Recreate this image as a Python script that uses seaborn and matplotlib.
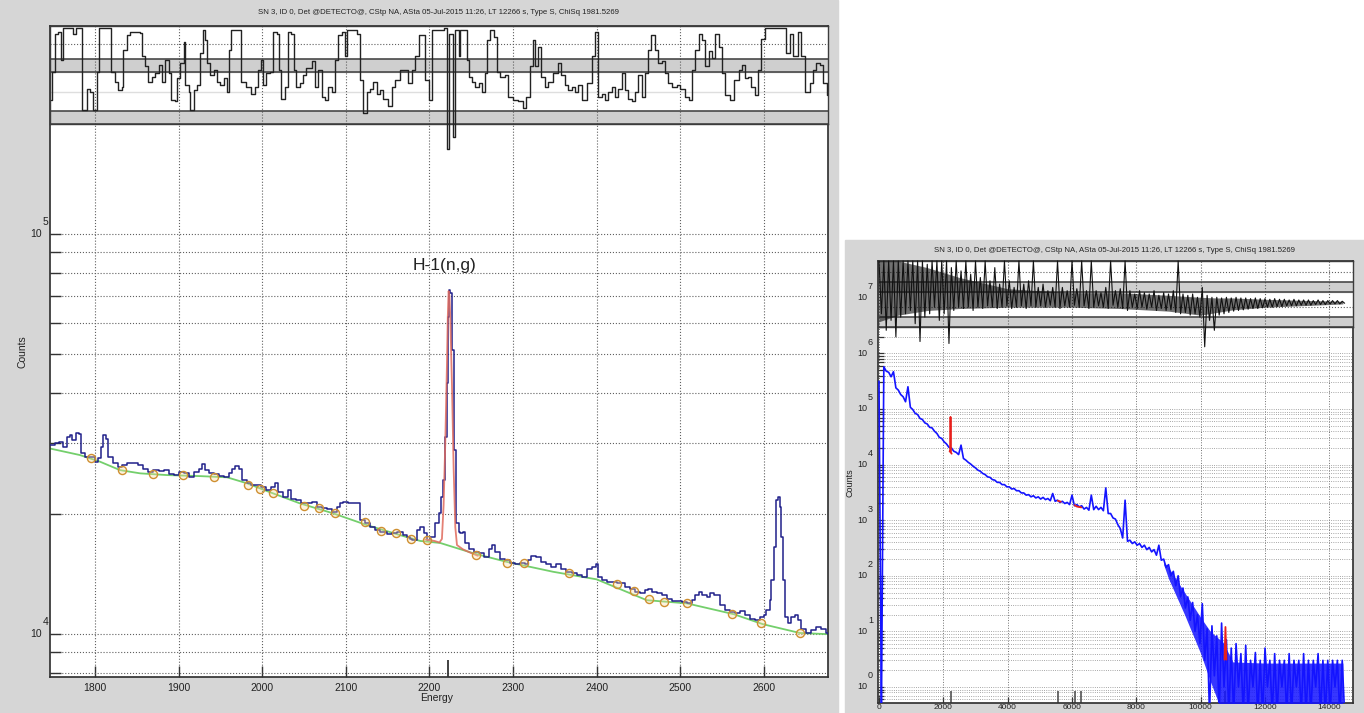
import numpy as np
import pandas as pd
import seaborn as sns
import matplotlib.pyplot as plt
from matplotlib.patches import Rectangle
from matplotlib.ticker import LogLocator, NullFormatter, FixedLocator
from matplotlib.transforms import offset_copy

# ---- data ----
title = "SN 3, ID 0, Det @DETECTO@, CStp NA, ASta 05-Jul-2015 11:26, LT 12266 s, Type S, ChiSq 1981.5269"

# zoomed spectrum (energy keV, counts)
zoom_spectrum = [
    (1746, 29690), (1752, 30060), (1757, 30270), (1762, 29380), (1766, 31120), (1770, 31440), (1773, 30550),
    (1777, 31840), (1781, 31620), (1783, 28310), (1788, 27730), (1794, 27730), (1800, 26980), (1804, 27480),
    (1807, 29380), (1810, 31440), (1813, 30830), (1816, 27730), (1822, 26730), (1828, 26180), (1832, 26450),
    (1838, 26790), (1846, 26790), (1852, 26450), (1858, 25820), (1864, 25470), (1870, 25700), (1876, 25590),
    (1882, 25700), (1888, 25120), (1894, 24950), (1900, 25470), (1906, 25230), (1912, 24660), (1918, 25470),
    (1924, 25940), (1928, 26610), (1932, 25700), (1936, 25230), (1942, 25120), (1948, 24830), (1954, 24720),
    (1960, 25230), (1964, 25940), (1968, 26300), (1972, 25940), (1976, 24270), (1982, 23820), (1987, 23550),
    (1993, 23550), (1999, 23330), (2005, 22910), (2011, 23330), (2015, 23820), (2019, 22700), (2025, 22030),
    (2031, 22910), (2035, 21830), (2041, 21630), (2047, 21230), (2053, 21280), (2059, 21430), (2065, 20800),
    (2071, 20610), (2077, 20510), (2083, 20230), (2089, 20800), (2093, 21230), (2097, 21430), (2103, 21230),
    (2109, 21280), (2115, 21230), (2117, 19280), (2123, 18920), (2129, 18540), (2135, 18200), (2141, 18030),
    (2149, 17780), (2155, 17860), (2161, 18030), (2165, 18030), (2169, 17680), (2173, 17500), (2177, 17340),
    (2179, 17180), (2185, 18200), (2189, 18540), (2193, 17860), (2197, 17180), (2201, 17500), (2207, 18920),
    (2211, 20040), (2214, 22030), (2216, 24270), (2219, 31120), (2221, 42360), (2222, 62090), (2223, 72440),
    (2225, 71120), (2227, 51290), (2229, 40740), (2230, 28840), (2232, 18920), (2235, 18030), (2237, 17860),
    (2240, 18030), (2243, 16870), (2247, 16370), (2253, 16070), (2259, 15920), (2265, 15600), (2271, 16370),
    (2275, 16670), (2279, 16070), (2284, 15450), (2290, 15310), (2296, 15030), (2302, 14960), (2308, 15030),
    (2314, 14960), (2318, 15310), (2322, 15670), (2328, 15560), (2334, 15170), (2340, 14960), (2346, 14720),
    (2352, 14960), (2358, 14590), (2364, 14320), (2370, 14190), (2376, 14050), (2382, 13900), (2388, 14520),
    (2394, 14720), (2399, 14960), (2402, 13900), (2406, 13650), (2412, 13520), (2418, 13520), (2424, 13430),
    (2430, 13400), (2434, 13120), (2440, 13000), (2446, 12760), (2452, 12650), (2458, 12880), (2462, 13000),
    (2466, 12760), (2472, 12680), (2478, 12530), (2484, 12270), (2490, 12110), (2496, 12110), (2502, 12050),
    (2508, 11940), (2514, 12160), (2518, 12530), (2522, 12760), (2526, 12530), (2532, 12390), (2536, 12650),
    (2540, 12530), (2544, 12530), (2548, 11800), (2554, 11480), (2560, 11380), (2566, 11270), (2572, 11430),
    (2578, 11150), (2584, 10940), (2590, 10840), (2595, 11040), (2600, 11150), (2603, 11480), (2607, 12160),
    (2609, 13650), (2612, 16520), (2615, 21630), (2617, 21980), (2619, 20800), (2620, 17500), (2623, 13650),
    (2625, 11040), (2629, 10640), (2633, 11040), (2637, 11150), (2641, 10840), (2645, 10330), (2651, 10050),
    (2657, 10230), (2663, 10420), (2669, 10330), (2674, 10050), (2677, 10000),
]

# continuum (green)
continuum = [
    (1746, 29110), (1782, 28030), (1806, 26980), (1830, 25700), (1854, 25230), (1886, 24980), (1926, 24830),
    (1958, 24660), (1982, 23820), (2005, 22810), (2045, 21230), (2085, 20040), (2125, 18740), (2165, 17680),
    (2189, 17100), (2213, 16900), (2253, 15920), (2292, 15170), (2348, 14320), (2400, 13710), (2460, 12160),
    (2508, 11940), (2564, 11220), (2599, 10590), (2643, 10070), (2677, 10000),
]

# peak fit (red)
peak_fit = [
    (2195, 17250), (2206, 17100), (2212, 16950), (2215, 17300), (2217, 21000), (2219, 30000), (2221, 47000),
    (2222, 62000), (2223, 72000), (2224, 70000), (2225, 62000), (2227, 42000), (2229, 26000), (2231, 18500),
    (2233, 16700), (2240, 16300), (2250, 15950), (2258, 15700),
]

# continuum nodes (circles)
nodes = [
    (1795, 27480), (1832, 25700), (1869, 25120), (1905, 24980), (1942, 24720), (1983, 23550), (1997, 23120),
    (2013, 22490), (2050, 20890), (2068, 20610), (2087, 20040), (2123, 19100), (2142, 18090), (2160, 17860),
    (2178, 17260), (2197, 17180), (2256, 15810), (2293, 15100), (2313, 15030), (2367, 14220), (2425, 13340),
    (2445, 12820), (2463, 12220), (2481, 12050), (2508, 11940), (2562, 11220), (2597, 10640), (2643, 10070),
]

# residual of the zoomed view (0..100 panel units)
zoom_residual = [
    (1747, 24), (1749, 53), (1752, 92), (1756, 94), (1759, 65), (1762, 98), (1772, 98), (1774, 92), (1777, 98),
    (1782, 98), (1785, 14), (1790, 36), (1794, 33), (1798, 14), (1802, 53), (1805, 98), (1816, 98), (1819, 53),
    (1824, 43), (1828, 35), (1832, 38), (1834, 76), (1838, 91), (1842, 94), (1854, 93), (1856, 69), (1860, 59),
    (1864, 43), (1868, 48), (1872, 52), (1876, 60), (1880, 43), (1884, 65), (1888, 52), (1891, 25), (1896, 23),
    (1898, 47), (1902, 62), (1906, 84), (1908, 40), (1912, 33), (1914, 14), (1918, 35), (1922, 40), (1926, 72),
    (1929, 96), (1932, 86), (1934, 62), (1938, 50), (1942, 55), (1946, 43), (1950, 40), (1954, 47), (1958, 33),
    (1960, 76), (1963, 96), (1973, 96), (1975, 43), (1981, 38), (1987, 31), (1991, 38), (1995, 55), (1999, 65),
    (2001, 40), (2005, 52), (2009, 53), (2013, 94), (2018, 92), (2020, 55), (2023, 26), (2027, 38), (2031, 94),
    (2035, 92), (2038, 55), (2041, 38), (2045, 42), (2049, 50), (2053, 57), (2059, 64), (2063, 38), (2067, 55),
    (2071, 28), (2075, 25), (2079, 38), (2083, 33), (2087, 65), (2091, 91), (2095, 94), (2099, 69), (2101, 96),
    (2113, 92), (2117, 45), (2120, 11), (2125, 33), (2129, 36), (2133, 43), (2137, 31), (2141, 35), (2145, 26),
    (2151, 18), (2155, 38), (2159, 45), (2165, 55), (2171, 55), (2175, 42), (2179, 55), (2183, 69), (2187, 91),
    (2191, 91), (2195, 45), (2199, 25), (2203, 96), (2218, 98), (2221, -26), (2223, 92), (2228, -13), (2231, 96),
    (2235, 69), (2237, 96), (2243, 96), (2245, 65), (2247, 48), (2251, 43), (2255, 38), (2259, 42), (2263, 33),
    (2267, 52), (2269, 86), (2273, 96), (2277, 89), (2281, 53), (2284, 48), (2290, 50), (2294, 28), (2300, 25),
    (2306, 23), (2312, 16), (2316, 28), (2320, 59), (2324, 86), (2326, 59), (2330, 79), (2334, 48), (2338, 38),
    (2342, 43), (2348, 52), (2354, 62), (2358, 50), (2362, 40), (2366, 35), (2370, 38), (2374, 33), (2378, 40),
    (2382, 25), (2388, 42), (2394, 69), (2398, 94), (2402, 28), (2406, 31), (2410, 25), (2414, 33), (2418, 38),
    (2422, 28), (2426, 36), (2430, 52), (2434, 35), (2438, 26), (2442, 23), (2446, 33), (2450, 50), (2454, 28),
    (2458, 52), (2462, 76), (2465, 91), (2470, 76), (2474, 62), (2478, 64), (2482, 52), (2486, 42), (2490, 38),
    (2496, 40), (2500, 36), (2506, 28), (2510, 25), (2514, 55), (2518, 76), (2522, 92), (2526, 86), (2530, 59),
    (2534, 74), (2538, 67), (2542, 92), (2546, 79), (2550, 52), (2554, 30), (2560, 25), (2564, 45), (2570, 55),
    (2574, 60), (2578, 47), (2581, 48), (2585, 38), (2589, 30), (2593, 55), (2597, 87), (2601, 98), (2623, 98),
    (2627, 72), (2631, 92), (2635, 69), (2641, 94), (2645, 69), (2649, 33), (2655, 42), (2659, 55), (2663, 62),
    (2667, 60), (2671, 42), (2676, 30),
]

zoom_xticks = [1800, 1900, 2000, 2100, 2200, 2300, 2400, 2500, 2600]
zoom_decades = [4, 5]
zoom_markers = [2222]
peak_label = "H-1(n,g)"

# full spectrum, 150 keV bins: max / min of log10(counts) in each bin
full_energy = np.arange(0, 14401, 150)
full_hi_log = [
    5.50, 5.76, 5.66, 5.67, 5.34, 5.22, 5.40, 4.99, 4.90, 4.81,
    4.73, 4.66, 4.56, 4.47, 4.37, 4.30, 4.22, 4.35, 4.08, 4.01,
    3.94, 3.88, 3.82, 3.77, 3.72, 3.68, 3.64, 3.60, 3.57, 3.53,
    3.49, 3.46, 3.44, 3.42, 3.41, 3.39, 3.48, 3.36, 3.34, 3.32,
    3.45, 3.28, 3.26, 3.23, 3.45, 3.25, 3.23, 3.58, 3.12, 3.02,
    2.85, 3.36, 2.64, 2.61, 2.58, 2.55, 2.51, 2.47, 2.55, 2.30,
    2.20, 2.08, 2.00, 1.78, 1.62, 1.52, 1.30, 1.50, 1.05, 1.10,
    0.92, 1.15, 0.85, 0.70, 0.78, 0.60, 0.75, 0.48, 0.62, 0.48,
    0.70, 0.48, 0.60, 0.48, 0.48, 0.60, 0.48, 0.48, 0.60, 0.48,
    0.48, 0.60, 0.48, 0.48, 0.48, 0.48, 0.48,
]
full_lo_log = [
    -0.5, 5.68, 5.58, 5.38, 5.26, 5.13, 5.03, 4.92, 4.83, 4.75,
    4.67, 4.60, 4.49, 4.41, 4.31, 4.24, 4.18, 4.11, 4.04, 3.97,
    3.90, 3.84, 3.78, 3.73, 3.68, 3.64, 3.60, 3.56, 3.53, 3.49,
    3.45, 3.42, 3.40, 3.38, 3.37, 3.35, 3.34, 3.32, 3.30, 3.28,
    3.26, 3.24, 3.20, 3.18, 3.19, 3.19, 3.17, 3.12, 3.04, 2.92,
    2.68, 2.62, 2.58, 2.55, 2.51, 2.47, 2.43, 2.37, 2.28, 2.15,
    2.00, 1.82, 1.62, 1.42, 1.20, 1.00, 0.78, 0.48, -0.5, 0.20,
    -0.5, 0.00, -0.5, -0.5, 0.00, -0.5, -0.5, 0.00, -0.5, -0.5,
    0.00, -0.5, -0.5, 0.00, -0.5, -0.5, 0.00, -0.5, -0.5, -0.5,
    0.00, -0.5, -0.5, -0.5, 0.00, -0.5, -0.5,
]
# dense part of the noisy tail (log10 counts)
tail_energy = [8850, 9000, 9500, 10000, 10300, 10700, 11000, 12000, 14420]
tail_hi_log = [2.25, 2.15, 1.70, 1.25, 1.00, 0.80, 0.45, 0.43, 0.43]
tail_lo_log = [2.20, 1.95, 1.30, 0.60, 0.10, -0.50, -0.50, -0.50, -0.50]

# full residual, same bins (0..100 panel units)
full_res_hi = [
    100, 100, 100, 100, 100, 100, 100, 100, 100, 100,
    95, 100, 100, 100, 100, 90, 100, 85, 100, 80,
    100, 75, 100, 70, 90, 65, 100, 70, 60, 100,
    65, 70, 100, 60, 65, 55, 60, 100, 60, 55,
    100, 58, 100, 55, 100, 55, 52, 60, 100, 55,
    58, 100, 55, 50, 55, 52, 50, 55, 48, 52,
    50, 55, 100, 50, 48, 50, 45, 60, 48, 45,
    45, 44, 45, 44, 45, 44, 44, 43, 44, 43,
    43, 42, 43, 42, 42, 41, 42, 41, 41, 41,
    40, 41, 40, 40, 40, 40, 39,
]
full_res_lo = [
    20, -5, 10, -15, 15, 20, 25, 5, -22, 15,
    20, 30, 10, 20, -25, 25, 30, 28, 30, 25,
    30, 28, 32, 30, 28, 30, 32, 28, 30, 32,
    28, 32, 30, 32, 30, 33, 30, 28, 32, 30,
    33, 30, 32, 28, 30, 32, 30, 28, 33, 30,
    28, 25, 30, 28, 30, 27, 30, 25, 28, 25,
    26, 22, 20, 22, 18, 20, 15, -30, 10, -5,
    18, 20, 22, 24, 25, 26, 27, 28, 28, 29,
    30, 30, 31, 31, 32, 32, 32, 33, 33, 33,
    34, 34, 34, 35, 35, 35, 36,
]
# dense core of the full residual
core_energy = [0, 600, 1500, 2500, 4000, 6000, 7500, 9000, 10000, 10500, 11000, 12000, 13500, 14420]
core_hi = [100, 100, 90, 75, 58, 52, 52, 48, 45, 44, 44, 42, 40, 39]
core_lo = [8, 18, 25, 28, 30, 30, 28, 24, 18, 22, 26, 30, 33, 35]

# other fitted regions of the full view (red)
fit_5550 = [(5560, 2240), (5650, 2150)]
fit_6100 = [(6080, 1860), (6150, 1760), (6290, 1700)]
fit_10770 = [(10740, 3.1), (10770, 12.0), (10800, 3.1)]

full_xticks = [0, 2000, 4000, 6000, 8000, 10000, 12000, 14000]
full_decades = [0, 1, 2, 3, 4, 5, 6, 7]
full_markers = [2223, 5560, 6080, 6290, 10760]

# ---- figure ----
sns.set_theme(style="white")
plt.rcParams['font.family'] = ['Liberation Sans Narrow', 'Liberation Sans', 'DejaVu Sans']

W, H = 1364, 713
gray = '#d6d6d6'
grid_kw = dict(ls=':', color='#606060', lw=0.8)


def px_box(x0, y0, x1, y1):
    return [x0 / W, 1 - y1 / H, (x1 - x0) / W, (y1 - y0) / H]


def decade_labels(ax, exps, dx, dy, size):
    trans = ax.get_yaxis_transform()
    for e in exps:
        t1 = offset_copy(trans, fig=fig, x=dx, y=0, units='dots')
        ax.text(0, 10.0 ** e, '10', transform=t1, ha='right', va='center', fontsize=size, color='#222')
        t2 = offset_copy(trans, fig=fig, x=dx + 1, y=dy, units='dots')
        ax.text(0, 10.0 ** e, str(e), transform=t2, ha='left', va='center', fontsize=size, color='#222')


def residual_frame(ax, bands, dotted, light):
    ax.set_ylim(0, 100)
    for lo, hi in bands:
        ax.axhspan(lo, hi, color='#cfcfcf', zorder=1)
        ax.axhline(lo, color='#3c3c3c', lw=1.1, zorder=2)
        ax.axhline(hi, color='#3c3c3c', lw=1.1, zorder=2)
    for yv in dotted:
        ax.axhline(yv, zorder=1, **grid_kw)
    for yv in light:
        ax.axhline(yv, color='#dedede', lw=1, zorder=1)
    ax.set_yticks([])
    for s in ax.spines.values():
        s.set_color('#3c3c3c')
        s.set_linewidth(1)


fig = plt.figure(figsize=(W / 100, H / 100), dpi=100)
fig.patch.set_facecolor('white')
fig.add_artist(Rectangle((0, 0), 838 / W, 1, transform=fig.transFigure, color=gray, zorder=-5))
fig.add_artist(Rectangle((845 / W, 0), (W - 845) / W, 1 - 240 / H, transform=fig.transFigure,
                         color=gray, zorder=-5))

# ---- left: zoomed view ----
zxlim = (1746.2, 2676.8)
ax = fig.add_axes(px_box(50, 26, 828, 677))
ax.set_facecolor('white')
ax.set_yscale('log')
spec = pd.DataFrame(zoom_spectrum, columns=['energy', 'counts'])
cont = pd.DataFrame(continuum, columns=['energy', 'counts'])
fit = pd.DataFrame(peak_fit, columns=['energy', 'counts'])
nd = pd.DataFrame(nodes, columns=['energy', 'counts'])
sns.lineplot(data=cont, x='energy', y='counts', ax=ax, color='#74cf6c', lw=1.3, estimator=None, zorder=2)
sns.lineplot(data=spec, x='energy', y='counts', ax=ax, color='#20208a', lw=1.1, estimator=None,
             drawstyle='steps-post', zorder=3)
sns.lineplot(data=fit, x='energy', y='counts', ax=ax, color='#e06a5c', lw=1.3, estimator=None,
             alpha=0.85, zorder=4)
sns.scatterplot(data=nd, x='energy', y='counts', ax=ax, s=34, facecolor=(0.98, 0.86, 0.62, 0.35),
                edgecolor='#cf8f30', linewidth=1.0, zorder=5)
ax.set_xlim(*zxlim)
ax.set_ylim(7816, 331000)
ax.xaxis.set_major_locator(FixedLocator(zoom_xticks))
ax.set_xticklabels([str(v) for v in zoom_xticks])
ax.yaxis.set_major_locator(LogLocator(base=10, numticks=10))
ax.yaxis.set_minor_locator(LogLocator(base=10, subs=range(2, 10), numticks=20))
ax.yaxis.set_major_formatter(NullFormatter())
ax.yaxis.set_minor_formatter(NullFormatter())
ax.grid(True, which='both', axis='y', **grid_kw)
ax.grid(True, which='major', axis='x', **grid_kw)
ax.tick_params(axis='both', which='both', direction='in', length=8, width=1, color='#333',
               left=True, bottom=True, labelsize=7.5, labelcolor='#222', pad=4)
ax.set_xlabel('')
ax.set_ylabel('')
for s in ax.spines.values():
    s.set_color('#333')
ax.vlines(zoom_markers, 0, 17 / 651, transform=ax.get_xaxis_transform(), color='#333', lw=1.3)
ax.text(2218, 83200, peak_label, ha='center', va='center', fontsize=12.5,
        family=['Liberation Sans', 'DejaVu Sans'], color='#222')
decade_labels(ax, zoom_decades, -8, 12, 7.5)

axr = fig.add_axes(px_box(50, 26, 828, 124))
axr.set_facecolor('white')
residual_frame(axr, [(0, 13.3), (53.1, 66.3)], [81.6], [32.7])
for xv in zoom_xticks:
    axr.axvline(xv, zorder=1, **grid_kw)
res = pd.DataFrame(zoom_residual, columns=['energy', 'r'])
sns.lineplot(data=res, x='energy', y='r', ax=axr, color='#222', lw=1.0, estimator=None,
             drawstyle='steps-post', clip_on=False, zorder=4)
axr.set_xlim(*zxlim)
axr.set_xticks([])
axr.set_xlabel('')
axr.set_ylabel('')

fig.text(439 / W, 1 - 12 / H, title, ha='center', va='center', fontsize=5.6, color='#222')
fig.text(22 / W, 1 - 352 / H, 'Counts', rotation=90, ha='center', va='center', fontsize=7.5, color='#222')
fig.text(437 / W, 1 - 698 / H, 'Energy', ha='center', va='center', fontsize=7.5, color='#222')

# ---- right: full spectrum ----
fxlim = (-31, 14735)
half = 75
zig_x = np.column_stack([full_energy, full_energy + half]).ravel()
zig_spec = 10.0 ** np.column_stack([full_hi_log, full_lo_log]).ravel()
zig_res = np.column_stack([full_res_hi, full_res_lo]).ravel()

bx = fig.add_axes(px_box(878, 261, 1353, 703))
bx.set_facecolor('white')
bx.set_yscale('log')
sns.lineplot(x=zig_x, y=zig_spec, ax=bx, color='#1414ff', lw=1.2, estimator=None, sort=False, zorder=3)
bx.fill_between(tail_energy, 10.0 ** np.array(tail_lo_log), 10.0 ** np.array(tail_hi_log),
                color='#1414ff', lw=0, alpha=0.85, zorder=3)
for seg in (peak_fit, fit_5550, fit_6100, fit_10770):
    d = pd.DataFrame(seg, columns=['energy', 'counts'])
    sns.lineplot(data=d, x='energy', y='counts', ax=bx, color='#e8201c', lw=1.3, estimator=None, zorder=4)
bx.set_xlim(*fxlim)
bx.set_ylim(0.515, 4.59e7)
bx.xaxis.set_major_locator(FixedLocator(full_xticks))
bx.set_xticklabels([str(v) for v in full_xticks])
bx.yaxis.set_major_locator(LogLocator(base=10, numticks=12))
bx.yaxis.set_minor_locator(LogLocator(base=10, subs=range(2, 10), numticks=40))
bx.yaxis.set_major_formatter(NullFormatter())
bx.yaxis.set_minor_formatter(NullFormatter())
bx.grid(True, which='both', axis='y', ls=':', color='#8a8a8a', lw=0.6)
bx.grid(True, which='major', axis='x', ls=':', color='#707070', lw=0.7)
bx.tick_params(axis='both', which='both', direction='in', length=4, width=0.9, color='#333',
               left=True, bottom=True, labelsize=6, labelcolor='#222', pad=0.5)
bx.set_xlabel('')
bx.set_ylabel('')
for s in bx.spines.values():
    s.set_color('#333')
bx.vlines(full_markers, 0, 12 / 442, transform=bx.get_xaxis_transform(), color='#444', lw=1.1)
decade_labels(bx, full_decades, -11, 11, 6.5)

bxr = fig.add_axes(px_box(878, 261, 1353, 327))
bxr.set_facecolor('white')
residual_frame(bxr, [(0, 15.2), (53.0, 68.2)], [83, 30], [])
for xv in full_xticks:
    bxr.axvline(xv, zorder=1, **grid_kw)
sns.lineplot(x=zig_x, y=zig_res, ax=bxr, color='#111', lw=0.8, estimator=None, sort=False,
             clip_on=False, zorder=4)
bxr.fill_between(core_energy, core_lo, core_hi, color='#111', lw=0, alpha=0.6, zorder=5)
bxr.set_xlim(*fxlim)
bxr.set_xticks([])
bxr.set_xlabel('')
bxr.set_ylabel('')

fig.text(1115 / W, 1 - 250 / H, title, ha='center', va='center', fontsize=5.6, color='#222')
fig.text(850 / W, 1 - 483 / H, 'Counts', rotation=90, ha='center', va='center', fontsize=6.5, color='#222')

fig.savefig('out.png', dpi=100)
